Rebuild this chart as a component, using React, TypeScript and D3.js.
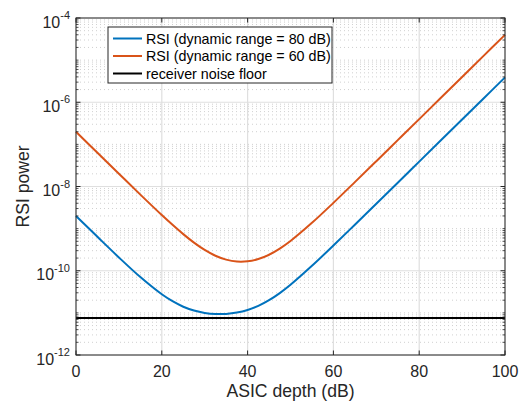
import React from "react";
import * as d3 from "d3";

const depth = [0, 5, 10, 15, 20, 22.5, 25, 27.5, 30, 32.5, 35, 37.5, 40, 42.5, 45, 47.5, 50, 55, 60, 65, 70, 75, 80, 85, 90, 95, 100];
const rsi80 = [2.0e-9, 6.39e-10, 2.07e-10, 7.07e-11, 2.76e-11, 1.89e-11, 1.40e-11, 1.137e-11, 9.99e-12, 9.41e-12, 9.46e-12, 1.015e-11, 1.17e-11, 1.465e-11, 2.0e-11, 2.95e-11, 4.65e-11, 1.31e-10, 3.97e-10, 1.24e-9, 3.9e-9, 1.23e-8, 3.89e-8, 1.23e-7, 3.89e-7, 1.23e-6, 3.89e-6];
const rsi60 = [2.0e-7, 6.32e-8, 2.01e-8, 6.42e-9, 2.1e-9, 1.231e-9, 7.4e-10, 4.65e-10, 3.12e-10, 2.27e-10, 1.84e-10, 1.659e-10, 1.68e-10, 1.9e-10, 2.4e-10, 3.355e-10, 5.08e-10, 1.37e-9, 4.09e-9, 1.27e-8, 3.99e-8, 1.26e-7, 3.98e-7, 1.26e-6, 3.98e-6, 1.26e-5, 3.98e-5];
const noiseX = [0, 100];
const noiseFloor = [7.6e-12, 7.6e-12];

const xTicks = [0, 20, 40, 60, 80, 100];
const yTickExps = [-12, -10, -8, -6, -4];
const legendLabels = ["RSI (dynamic range = 80 dB)", "RSI (dynamic range = 60 dB)", "receiver noise floor"];
const colors = ["#0072BD", "#D95319", "#000000"];
const xLabel = "ASIC depth (dB)";
const yLabel = "RSI power";

const W = 519, H = 401;
const L = 76, R = 505, T = 18, B = 355;
const FONT = "'Liberation Sans', Arial, Helvetica, sans-serif";
const AX = "#262626";

export default function App() {
  const x = d3.scaleLinear().domain([0, 100]).range([L, R]);
  const y = d3.scaleLog().domain([1e-12, 1e-4]).range([B, T]);

  const minorVals: number[] = [];
  for (let k = -12; k < -4; k++) {
    for (let m = 1; m <= 9; m++) {
      if (m === 1 && k % 2 === 0) continue;
      minorVals.push(m * Math.pow(10, k));
    }
  }
  const majorVals = yTickExps.map((e) => Math.pow(10, e));

  const line = d3
    .line<[number, number]>()
    .x((d) => x(d[0]))
    .y((d) => y(d[1]))
    .curve(d3.curveCatmullRom.alpha(0.5));

  const s80 = line(depth.map((d, i) => [d, rsi80[i]] as [number, number])) || "";
  const s60 = line(depth.map((d, i) => [d, rsi60[i]] as [number, number])) || "";
  const sN = line(noiseX.map((d, i) => [d, noiseFloor[i]] as [number, number])) || "";

  const lgX = 108, lgY = 27, lgW = 224, lgH = 56;
  const rowY = [38.5, 56, 73.5];

  return (
    <svg width={W} height={H} style={{ position: "absolute", left: 0, top: 0, background: "#fff" }} fontFamily={FONT}>
      <rect x={0} y={0} width={W} height={H} fill="#fff" />
      {/* minor grid */}
      {minorVals.map((v, i) => (
        <line key={"mg" + i} x1={L} x2={R} y1={y(v)} y2={y(v)} stroke="#C4C4C4" strokeWidth={0.8} strokeDasharray="1 3" />
      ))}
      {/* major grid */}
      {majorVals.map((v, i) => (
        <line key={"yg" + i} x1={L} x2={R} y1={y(v)} y2={y(v)} stroke="#DFDFDF" strokeWidth={1.2} />
      ))}
      {xTicks.map((v, i) => (
        <line key={"xg" + i} x1={x(v)} x2={x(v)} y1={T} y2={B} stroke="#DFDFDF" strokeWidth={1.2} />
      ))}
      {/* data */}
      <path d={sN} fill="none" stroke={colors[2]} strokeWidth={2} />
      <path d={s80} fill="none" stroke={colors[0]} strokeWidth={2} />
      <path d={s60} fill="none" stroke={colors[1]} strokeWidth={2} />
      {/* axes box */}
      <rect x={L} y={T} width={R - L} height={B - T} fill="none" stroke={AX} strokeWidth={1} />
      {xTicks.map((v, i) => (
        <g key={"xt" + i}>
          <line x1={x(v)} x2={x(v)} y1={B} y2={B - 4.5} stroke={AX} />
          <line x1={x(v)} x2={x(v)} y1={T} y2={T + 4.5} stroke={AX} />
          <text x={x(v)} y={377} textAnchor="middle" fontSize={16} fill={AX}>
            {v}
          </text>
        </g>
      ))}
      {majorVals.map((v, i) => (
        <g key={"yt" + i}>
          <line x1={L} x2={L + 4.5} y1={y(v)} y2={y(v)} stroke={AX} />
          <line x1={R} x2={R - 4.5} y1={y(v)} y2={y(v)} stroke={AX} />
          <text x={70} y={y(v) + 9.5} textAnchor="end" fontSize={16} fill={AX}>
            10
            <tspan fontSize={11} dy={-8.5}>
              {"-" + String(-yTickExps[i])}
            </tspan>
          </text>
        </g>
      ))}
      {minorVals.map((v, i) => (
        <g key={"ym" + i}>
          <line x1={L} x2={L + 2.5} y1={y(v)} y2={y(v)} stroke={AX} strokeWidth={0.8} />
          <line x1={R} x2={R - 2.5} y1={y(v)} y2={y(v)} stroke={AX} strokeWidth={0.8} />
        </g>
      ))}
      {/* axis labels */}
      <text x={(L + R) / 2} y={397} textAnchor="middle" fontSize={17.6} fill={AX}>
        {xLabel}
      </text>
      <text transform={`translate(28.5,${(T + B) / 2}) rotate(-90)`} textAnchor="middle" fontSize={17.6} fill={AX}>
        {yLabel}
      </text>
      {/* legend */}
      <rect x={lgX} y={lgY} width={lgW} height={lgH} fill="#fff" stroke={AX} strokeWidth={1} />
      {legendLabels.map((t, i) => (
        <g key={"lg" + i}>
          <line x1={113} x2={142} y1={rowY[i]} y2={rowY[i]} stroke={colors[i]} strokeWidth={2} />
          <text x={146} y={rowY[i] + 5} fontSize={14.3} fill="#000">
            {t}
          </text>
        </g>
      ))}
    </svg>
  );
}
